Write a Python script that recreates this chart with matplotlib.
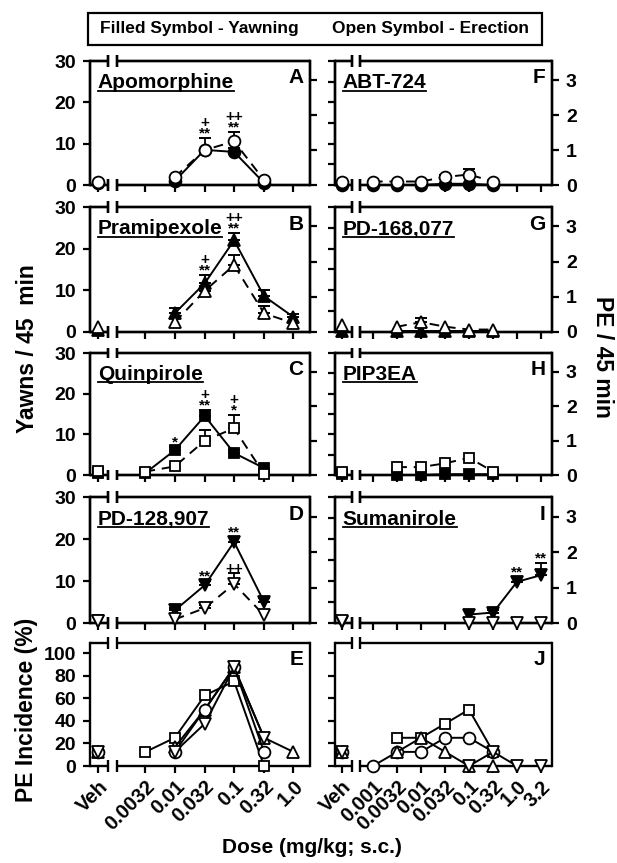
import math
import matplotlib
matplotlib.use('Agg')
import matplotlib.pyplot as plt
from matplotlib.lines import Line2D
from matplotlib.patches import Rectangle

plt.rcParams['font.family'] = ['Liberation Sans', 'DejaVu Sans']
plt.rcParams['font.weight'] = 'bold'

# ---------------- data ----------------
# x tick labels
left_ticks = ['Veh', '0.0032', '0.01', '0.032', '0.1', '0.32', '1.0']
right_ticks = ['Veh', '0.001', '0.0032', '0.01', '0.032', '0.1', '0.32', '1.0', '3.2']

# A / E : Apomorphine (circles)
apo_dose = ['Veh', 0.01, 0.032, 0.1, 0.32]
apo_yawn = [0.5, 1.0, 8.5, 8.0, 0.5]
apo_yawn_sem = [0, 0, 0, 1.0, 0]
apo_pe = [0.1, 0.23, 1.0, 1.25, 0.14]
apo_pe_sem = [0, 0, 0.35, 0.27, 0]
apo_pe_sig = ['', '', '+\n**', '++\n**', '']
apo_inc = [12.5, 12.5, 50, 87.5, 12.5]

# B / E : Pramipexole (up triangles)
pra_dose = ['Veh', 0.01, 0.032, 0.1, 0.32, 1.0]
pra_yawn = [0.5, 4.5, 11.7, 22.0, 8.6, 3.6]
pra_yawn_sem = [0, 1.2, 2.0, 1.8, 1.5, 0.8]
pra_yawn_sig = ['', '', '+\n**', '++\n**', '', '']
pra_pe = [0.15, 0.28, 1.17, 1.9, 0.53, 0.25]
pra_pe_sem = [0, 0, 0.15, 0.3, 0.2, 0]
pra_inc = [12.5, 16.7, 50, 87.5, 25, 12.5]

# C / E : Quinpirole (squares)
qui_dose = ['Veh', 0.0032, 0.01, 0.032, 0.1, 0.32]
qui_yawn = [0.5, 0.5, 6.1, 14.5, 5.4, 1.7]
qui_yawn_sem = [0, 0, 0.8, 1.5, 0.8, 0]
qui_yawn_sig = ['', '', '*', '+\n**', '', '']
qui_pe = [0.11, 0.1, 0.25, 1.0, 1.36, 0.03]
qui_pe_sem = [0, 0, 0, 0.3, 0.4, 0]
qui_pe_sig = ['', '', '', '', '+\n*', '']
qui_inc = [12.5, 12.5, 25, 62.5, 75, 0]

# D / E : PD-128,907 (down triangles)
pd128_dose = ['Veh', 0.01, 0.032, 0.1, 0.32]
pd128_yawn = [0.5, 3.0, 9.0, 19.3, 5.0]
pd128_yawn_sem = [0, 0.5, 1.0, 1.2, 1.0]
pd128_yawn_sig = ['', '', '**', '**', '']
pd128_pe = [0.05, 0.1, 0.42, 1.1, 0.22]
pd128_pe_sem = [0, 0, 0.1, 0.3, 0]
pd128_pe_sig = ['', '', '', '++', '']
pd128_inc = [12.5, 12.5, 37.5, 87.5, 25]

# F / J : ABT-724 (circles)
abt_dose = ['Veh', 0.001, 0.0032, 0.01, 0.032, 0.1, 0.32]
abt_yawn = [0.0, 0.0, 0.0, 0.0, 0.3, 0.3, 0.0]
abt_pe = [0.1, 0.1, 0.1, 0.1, 0.23, 0.3, 0.1]
abt_pe_sem = [0, 0, 0, 0, 0.05, 0.15, 0]
abt_inc = [12.5, 0, 12.5, 12.5, 25, 25, 12.5]

# G / J : PD-168,077 (up triangles)
pd168_dose = ['Veh', 0.0032, 0.01, 0.032, 0.1, 0.32]
pd168_yawn = [0.2, 0.2, 0.2, 0.2, 0.2, 0.2]
pd168_pe = [0.2, 0.15, 0.28, 0.15, 0.07, 0.07]
pd168_pe_sem = [0, 0, 0.12, 0, 0, 0]
pd168_inc = [12.5, 12.5, 25, 12.5, 0, 0]

# H / J : PIP3EA (squares)
pip_dose = ['Veh', 0.0032, 0.01, 0.032, 0.1, 0.32]
pip_yawn = [0.3, 0.0, 0.0, 0.2, 0.2, 0.2]
pip_pe = [0.1, 0.23, 0.23, 0.34, 0.5, 0.1]
pip_inc = [12.5, 25, 25, 37.5, 50, 12.5]

# I / J : Sumanirole (down triangles)
sum_dose = ['Veh', 0.1, 0.32, 1.0, 3.2]
sum_yawn = [0.3, 2.0, 2.5, 9.8, 11.4]
sum_yawn_sem = [0, 0, 0.5, 1.2, 3.0]
sum_yawn_sig = ['', '', '', '**', '**']
sum_pe = [0.05, 0, 0, 0, 0]
sum_inc = [12.5, 0, 12.5, 0, 0]

# ---------------- layout (pixels of the 617x863 figure) ----------------
W, H = 617, 863
rows = [(61, 185), (207, 332), (353, 475), (497, 623), (643, 766)]
cols = [(90, 310), (335, 552)]
xlims = [(-3.43, 0.28), (-3.79, 0.73)]
veh_x = [-3.29, -3.65]
breaks = [(-3.12, -2.97), (-3.44, -3.27)]
pe_top = 3.55

fig = plt.figure(figsize=(W / 100, H / 100), dpi=100)


def rect(c, r):
    x0, x1 = cols[c]
    y0, y1 = rows[r]
    return [x0 / W, 1 - y1 / H, (x1 - x0) / W, (y1 - y0) / H]


def xpos(doses, col):
    return [veh_x[col] if d == 'Veh' else math.log10(d) for d in doses]


def tick_x(labels, col):
    return [veh_x[col] if t == 'Veh' else math.log10(float(t)) for t in labels]


def series(ax, col, doses, vals, marker, filled, ls, sem=None, sig=None, ms=8.5):
    xs = xpos(doses, col)
    fc = 'black' if filled else 'white'
    if marker == 's':
        ms = ms - 1
    kw = dict(marker=marker, ms=ms, mfc=fc, mec='black', mew=1.3,
              color='black', lw=1.4, clip_on=False)
    if sem:
        ex = [x for x, e in zip(xs, sem) if e > 0]
        ey = [v for v, e in zip(vals, sem) if e > 0]
        ee = [e for e in sem if e > 0]
        ax.errorbar(ex, ey, yerr=[[0] * len(ee), ee], fmt='none', ecolor='black',
                    elinewidth=1.3, capsize=4.5, capthick=1.4)
    ax.plot(xs[:1], vals[:1], ls='none', **kw)
    ax.plot(xs[1:], vals[1:], ls=ls, **kw)
    if sig:
        sem = sem or [0] * len(vals)
        for x, v, e, s in zip(xs, vals, sem, sig):
            if s:
                ax.annotate(s, (x, v + e), xytext=(0, -2), textcoords='offset points',
                            ha='center', va='bottom', fontsize=11, linespacing=0.7)


def frame(ax, col, ticks):
    lo, hi = xlims[col]
    b1, b2 = breaks[col]
    ax.set_xlim(lo, hi)
    ax.spines['top'].set_visible(False)
    ax.spines['bottom'].set_visible(False)
    for s in ('left', 'right'):
        ax.spines[s].set_linewidth(1.7)
    tr = ax.get_xaxis_transform()
    kw = dict(transform=tr, color='black', lw=1.7, clip_on=False, solid_capstyle='butt')
    for y in (0, 1):
        ax.plot([lo, b1], [y, y], **kw)
        ax.plot([b2, hi], [y, y], **kw)
        for b in (b1, b2):
            ax.plot([b, b], [y - 0.045, y + 0.045], **kw)
    ax.set_xticks(tick_x(ticks, col))
    ax.tick_params(axis='both', direction='out', length=5, width=1.6, labelsize=14, pad=5)
    ax.tick_params(axis='x', labelsize=14.5, pad=3)


titles = []

# yawn panels
yawn_panels = [
    (0, 0, 'Apomorphine', 'A', 'o', apo_dose, apo_yawn, apo_yawn_sem, None, apo_pe, apo_pe_sem, apo_pe_sig),
    (0, 1, 'Pramipexole', 'B', '^', pra_dose, pra_yawn, pra_yawn_sem, pra_yawn_sig, pra_pe, pra_pe_sem, None),
    (0, 2, 'Quinpirole', 'C', 's', qui_dose, qui_yawn, qui_yawn_sem, qui_yawn_sig, qui_pe, qui_pe_sem, qui_pe_sig),
    (0, 3, 'PD-128,907', 'D', 'v', pd128_dose, pd128_yawn, pd128_yawn_sem, pd128_yawn_sig, pd128_pe, pd128_pe_sem, pd128_pe_sig),
    (1, 0, 'ABT-724', 'F', 'o', abt_dose, abt_yawn, None, None, abt_pe, abt_pe_sem, None),
    (1, 1, 'PD-168,077', 'G', '^', pd168_dose, pd168_yawn, None, None, pd168_pe, pd168_pe_sem, None),
    (1, 2, 'PIP3EA', 'H', 's', pip_dose, pip_yawn, None, None, pip_pe, None, None),
    (1, 3, 'Sumanirole', 'I', 'v', sum_dose, sum_yawn, sum_yawn_sem, sum_yawn_sig, sum_pe, None, None),
]

for col, row, name, letter, mk, dose, yawn, ysem, ysig, pe, psem, psig in yawn_panels:
    ax = fig.add_axes(rect(col, row))
    ax2 = ax.twinx()
    ticks = left_ticks if col == 0 else right_ticks
    frame(ax, col, ticks)
    frame(ax2, col, ticks)
    ax.set_xticklabels([])
    ax.set_ylim(0, 30)
    ax2.set_ylim(0, pe_top)
    ax2.set_yticks([0, 1, 2, 3])
    if col == 0:
        ax.set_yticks([0, 10, 20, 30])
        ax2.set_yticklabels([])
    else:
        ax.set_yticks([0, 5, 10, 15, 20, 25, 30])
        ax.set_yticklabels([])
    series(ax, col, dose, yawn, mk, True, '-', ysem, ysig)
    series(ax2, col, dose, pe, mk, False, (0, (5, 3.5)), psem, psig)
    t = ax.text(0.035, 0.78, name, transform=ax.transAxes, fontsize=15, ha='left', va='baseline')
    titles.append((ax, t))
    ax.text(0.97, 0.82, letter, transform=ax.transAxes, fontsize=15, ha='right', va='baseline')

# incidence panels
axE = fig.add_axes(rect(0, 4))
frame(axE, 0, left_ticks)
axE.set_ylim(0, 109)
axE.set_yticks([0, 20, 40, 60, 80, 100])
axE.set_xticklabels(left_ticks, rotation=45, ha='right', va='top', rotation_mode='anchor')
series(axE, 0, qui_dose, qui_inc, 's', False, '-')
series(axE, 0, pra_dose, pra_inc, '^', False, '-')
series(axE, 0, apo_dose, apo_inc, 'o', False, '-')
series(axE, 0, pd128_dose, pd128_inc, 'v', False, '-')
axE.text(0.97, 0.82, 'E', transform=axE.transAxes, fontsize=15, ha='right', va='baseline')

axJ = fig.add_axes(rect(1, 4))
frame(axJ, 1, right_ticks)
axJ.set_ylim(0, 109)
axJ.set_yticks([0, 20, 40, 60, 80, 100])
axJ.set_yticklabels([])
axJ.set_xticklabels(right_ticks, rotation=45, ha='right', va='top', rotation_mode='anchor')
series(axJ, 1, pip_dose, pip_inc, 's', False, '-')
series(axJ, 1, abt_dose, abt_inc, 'o', False, '-')
series(axJ, 1, pd168_dose, pd168_inc, '^', False, '-')
series(axJ, 1, sum_dose, sum_inc, 'v', False, '-')
axJ.text(0.97, 0.82, 'J', transform=axJ.transAxes, fontsize=15, ha='right', va='baseline')

# axis labels
fig.text(27 / W, 1 - 349 / H, 'Yawns / 45  min', rotation=90, ha='center', va='center', fontsize=16.5)
fig.text(602 / W, 1 - 357 / H, 'PE / 45 min', rotation=270, ha='center', va='center', fontsize=16.5)
fig.text(27 / W, 1 - 710 / H, 'PE Incidence (%)', rotation=90, ha='center', va='center', fontsize=16.5)
fig.text(312 / W, 1 - 847 / H, 'Dose (mg/kg; s.c.)', ha='center', va='center', fontsize=15)

# legend box
fig.add_artist(Rectangle((88 / W, 1 - 45 / H), 454 / W, 32 / H, transform=fig.transFigure,
                         fill=False, lw=1.6, ec='black'))
fig.text(100 / W, 1 - 29 / H, 'Filled Symbol - Yawning', ha='left', va='center', fontsize=12.5)
fig.text(332 / W, 1 - 29 / H, 'Open Symbol - Erection', ha='left', va='center', fontsize=12.5)

# underline the drug names
fig.canvas.draw()
renderer = fig.canvas.get_renderer()
inv = fig.transFigure.inverted()
for ax, t in titles:
    bb = t.get_window_extent(renderer)
    ybase = ax.transAxes.transform((0, 0.78))[1] - 2.5
    (fx0, fy), (fx1, _) = inv.transform([(bb.x0, ybase), (bb.x1, ybase)])
    fig.add_artist(Line2D([fx0, fx1], [fy, fy], transform=fig.transFigure, color='black', lw=1.3))

fig.savefig('out.png', dpi=100)
